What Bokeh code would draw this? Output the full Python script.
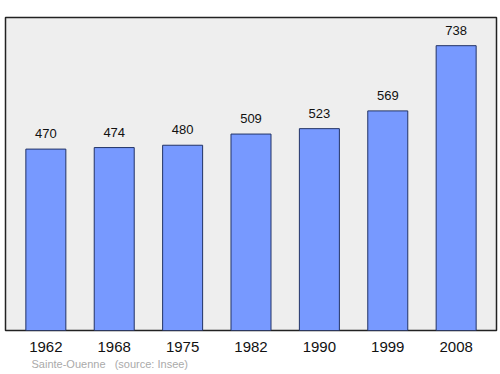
from bokeh.plotting import figure
from bokeh.models import ColumnDataSource, FixedTicker, Range1d, Title
from bokeh.core.properties import value
from bokeh.embed import file_html
from bokeh.resources import INLINE

years = ["1962", "1968", "1975", "1982", "1990", "1999", "2008"]
population = [470, 474, 480, 509, 523, 569, 738]
town = "Sainte-Ouenne"
source_note = "(source: Insee)"

xs = list(range(len(years)))
src = ColumnDataSource(dict(x=xs, top=population, lab=[str(v) for v in population]))

FONT = "Liberation Sans"

p = figure(width=500, height=374, output_backend="svg", toolbar_location=None,
           x_range=Range1d(-0.59, len(years) - 1 + 0.59), y_range=Range1d(0, 811),
           min_border_left=5, min_border_right=4, min_border_top=17, min_border_bottom=44)
p.background_fill_color = "#eeeeee"
p.border_fill_color = "white"
p.outline_line_color = "#222222"
p.outline_line_width = 1.5
p.grid.visible = False
p.yaxis.visible = False

p.vbar(x="x", top="top", bottom=0, width=0.585, source=src,
       fill_color="#7799ff", line_color="#223366", line_width=1)
p.text(x="x", y="top", text="lab", source=src, text_align="center",
       text_baseline="bottom", y_offset=-11, text_font_size="13px",
       text_color="#111111", text_font=value(FONT))

ax = p.xaxis[0]
ax.ticker = FixedTicker(ticks=xs)
ax.major_label_overrides = {i: y for i, y in enumerate(years)}
ax.axis_line_color = None
ax.major_tick_line_color = None
ax.minor_tick_line_color = None
ax.major_label_text_font_size = "15px"
ax.major_label_text_font = FONT
ax.major_label_text_color = "#111111"
ax.major_label_standoff = 5

foot = Title(text=town + "\u00a0\u00a0\u00a0" + source_note, align="left",
             offset=26, standoff=3, text_font_size="11px", text_color="#aaaaaa",
             text_font=FONT, text_font_style="normal")
p.add_layout(foot, "below")

open("out.html", "w").write(file_html(p, INLINE))
